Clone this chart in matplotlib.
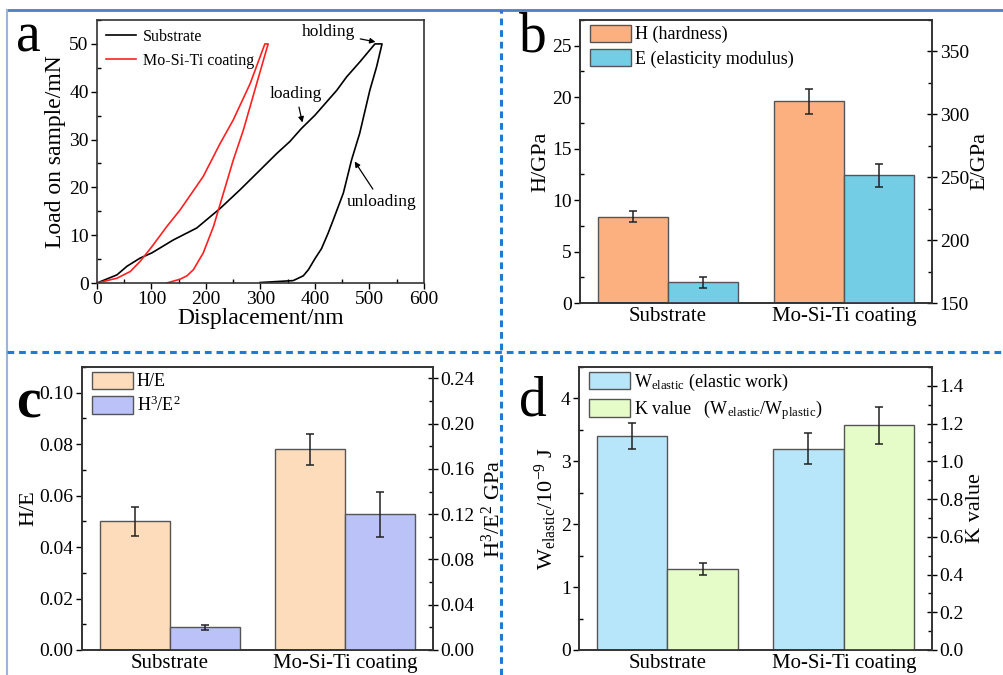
import numpy as np
import matplotlib
matplotlib.use('Agg')
import matplotlib.pyplot as plt
from matplotlib.lines import Line2D
from matplotlib.ticker import MultipleLocator

plt.rcParams['font.family'] = ['Liberation Serif', 'DejaVu Serif']
plt.rcParams['mathtext.fontset'] = 'custom'
plt.rcParams['mathtext.rm'] = 'Liberation Serif'
plt.rcParams['mathtext.it'] = 'Liberation Serif:italic'
plt.rcParams['axes.linewidth'] = 1.2
plt.rcParams['axes.edgecolor'] = '#333333'

# ---- panel a: load-displacement curves (loading, holding, unloading) ----
sub_disp = [0, 36.6, 55, 79, 100.7, 140, 183, 226, 262.5, 299, 330, 354, 375, 400, 440, 458, 482, 510,
            523, 513, 500.6, 482, 467, 452, 433.5, 424, 412, 400, 388, 378.5, 360, 299]
sub_load = [0, 1.7, 3.5, 5.2, 6.3, 9.0, 11.5, 15.6, 19.5, 23.6, 27.1, 29.6, 32.3, 35.1, 40.3, 43.1, 46.2, 50,
            50, 45.2, 40.3, 31.3, 25.7, 18.8, 13.2, 10.4, 7.2, 5.1, 2.8, 1.5, 0.5, 0.1]
coat_disp = [0, 36.6, 61, 79, 100.7, 128, 152.6, 195, 226, 250, 281, 308,
             314, 293, 268.6, 250, 232, 213.7, 195, 177, 165, 152.6, 128]
coat_load = [0, 1.0, 2.4, 4.5, 7.6, 11.8, 15.3, 22.3, 29.2, 34.1, 41.7, 50,
             50, 41.7, 32, 25.7, 18.8, 11.8, 6.3, 2.8, 1.5, 0.8, 0]

# ---- bar panels ----
samples = ['Substrate', 'Mo-Si-Ti coating']
hardness = [8.4, 19.6]
hardness_err = [0.5, 1.2]
modulus = [166.5, 251.5]
modulus_err = [4.2, 9.0]
h_over_e = [0.050, 0.078]
h_over_e_err = [0.0056, 0.006]
h3_e2 = [0.020, 0.120]
h3_e2_err = [0.0022, 0.020]
w_elastic = [3.4, 3.2]
w_elastic_err = [0.21, 0.25]
k_value = [0.43, 1.19]
k_value_err = [0.032, 0.10]

W, H = 1004, 675
fig = plt.figure(figsize=(W / 100, H / 100), dpi=100)

TICK = 14
LAB = 16


def px_axes(left, top, right, bottom):
    return fig.add_axes([left / W, 1 - bottom / H, (right - left) / W, (bottom - top) / H])


def style_left(ax):
    ax.tick_params(axis='y', which='major', direction='out', length=4, labelsize=TICK, width=1, pad=2)
    ax.tick_params(axis='y', which='minor', direction='in', length=3, width=1)
    ax.tick_params(axis='x', length=0, labelsize=15, pad=3)


def style_right(ax):
    ax.tick_params(axis='y', which='major', direction='inout', length=7, labelsize=TICK, width=1, pad=2)
    ax.tick_params(axis='y', which='minor', direction='in', length=3, width=1)


def bar_panel(ax, v1, e1, v2, e2, c1, c2):
    x = np.arange(len(samples)) + 1
    ax2 = ax.twinx()
    ekw = dict(elinewidth=1.1, capthick=1.1, ecolor='#222222')
    ax.bar(x - 0.2, v1, 0.4, yerr=e1, capsize=3, color=c1, edgecolor='#555555', lw=1, error_kw=ekw, zorder=2)
    ax2.bar(x + 0.2, v2, 0.4, yerr=e2, capsize=3, color=c2, edgecolor='#555555', lw=1, error_kw=ekw, zorder=2)
    ax.set_xlim(0.5, 2.5)
    ax.set_xticks(x)
    ax.set_xticklabels(samples)
    style_left(ax)
    style_right(ax2)
    return ax2


def box_legend(ax, colors, labels):
    handles = [plt.Rectangle((0, 0), 1, 1, fc=c, ec='#555555') for c in colors]
    ax.legend(handles=handles, labels=labels, loc='upper left', frameon=False,
              fontsize=13, handlelength=2.3, handleheight=1.1, handletextpad=0.2,
              borderaxespad=0, borderpad=0.25, bbox_to_anchor=(0.015, 1.0),
              labelspacing=0.3)


# panel a
axa = px_axes(97, 20, 424, 283)
axa.plot(sub_disp, sub_load, color='black', lw=1.2, label='Substrate')
axa.plot(coat_disp, coat_load, color='#ff2020', lw=1.2, label='Mo-Si-Ti coating')
axa.set_xlim(0, 600)
axa.set_ylim(0, 55)
axa.xaxis.set_major_locator(MultipleLocator(100))
axa.xaxis.set_minor_locator(MultipleLocator(50))
axa.yaxis.set_major_locator(MultipleLocator(10))
axa.yaxis.set_minor_locator(MultipleLocator(5))
axa.tick_params(which='major', direction='out', length=4, labelsize=TICK, width=1, pad=2)
axa.tick_params(which='minor', direction='in', length=3, width=1)
axa.set_xlabel('Displacement/nm', fontsize=LAB + 1, labelpad=0)
axa.set_ylabel('Load on sample/mN', fontsize=LAB + 1, labelpad=2)
axa.legend(loc='upper left', frameon=False, fontsize=11.5, handlelength=1.9,
           borderaxespad=0.15, labelspacing=0.5, handletextpad=0.4)
akw = dict(arrowstyle='-|>', color='black', lw=0.9, mutation_scale=8)
axa.annotate('holding', xy=(516, 50.3), xytext=(375, 52.4), fontsize=12.5, va='center',
             arrowprops=akw)
axa.annotate('loading', xy=(378, 33), xytext=(317, 39.6), fontsize=12.5, va='center',
             arrowprops=akw)
axa.annotate('unloading', xy=(470, 25.9), xytext=(458, 16.9), fontsize=12.5, va='center',
             arrowprops=akw)

# panel b
axb = px_axes(580, 20, 932, 303)
axb2 = bar_panel(axb, hardness, hardness_err, modulus, modulus_err, '#fdb07f', '#72cde5')
axb.set_ylim(0, 27.5)
axb2.set_ylim(150, 375)
axb.yaxis.set_major_locator(MultipleLocator(5))
axb.yaxis.set_minor_locator(MultipleLocator(2.5))
axb2.yaxis.set_major_locator(MultipleLocator(50))
axb2.yaxis.set_minor_locator(MultipleLocator(25))
axb.set_ylabel('H/GPa', fontsize=LAB, labelpad=1)
axb2.set_ylabel('E/GPa', fontsize=LAB, labelpad=1)
box_legend(axb, ['#fdb07f', '#72cde5'], ['H (hardness)', 'E (elasticity modulus)'])

# panel c
axc = px_axes(82, 367, 433, 650)
axc2 = bar_panel(axc, h_over_e, h_over_e_err, h3_e2, h3_e2_err, '#fddcbb', '#bac2f8')
axc.set_ylim(0, 0.11)
axc2.set_ylim(0, 0.25)
axc.yaxis.set_major_locator(MultipleLocator(0.02))
axc.yaxis.set_minor_locator(MultipleLocator(0.01))
axc2.yaxis.set_major_locator(MultipleLocator(0.04))
axc2.yaxis.set_minor_locator(MultipleLocator(0.02))
axc.yaxis.set_major_formatter(lambda v, p: f'{v:.2f}')
axc2.yaxis.set_major_formatter(lambda v, p: f'{v:.2f}')
axc.set_ylabel('H/E', fontsize=LAB, labelpad=1)
axc2.set_ylabel('H$^3$/E$^2$ GPa', fontsize=LAB, labelpad=5)
box_legend(axc, ['#fddcbb', '#bac2f8'], ['H/E', 'H$^3$/E$^2$'])

# panel d
axd = px_axes(579, 367, 932, 650)
axd2 = bar_panel(axd, w_elastic, w_elastic_err, k_value, k_value_err, '#b7e6fa', '#e6fcc8')
axd.set_ylim(0, 4.5)
axd2.set_ylim(0, 1.5)
axd.yaxis.set_major_locator(MultipleLocator(1))
axd.yaxis.set_minor_locator(MultipleLocator(0.5))
axd2.yaxis.set_major_locator(MultipleLocator(0.2))
axd2.yaxis.set_minor_locator(MultipleLocator(0.1))
axd2.yaxis.set_major_formatter(lambda v, p: f'{v:.1f}')
axd.set_ylabel('W$_{\\mathrm{elastic}}$/10$^{\\mathrm{-9}}$ J', fontsize=LAB, labelpad=1)
axd2.set_ylabel('K value', fontsize=LAB, labelpad=1)
box_legend(axd, ['#b7e6fa', '#e6fcc8'],
           ['W$_{\\mathrm{elastic}}$ (elastic work)',
            'K value   (W$_{\\mathrm{elastic}}$/W$_{\\mathrm{plastic}}$)'])

# panel letters (baseline placed)
fig.text(28 / W, 1 - 52 / H, 'a', fontsize=40, ha='center', va='baseline')
fig.text(533 / W, 1 - 52 / H, 'b', fontsize=40, ha='center', va='baseline')
fig.text(28 / W, 1 - 417 / H, 'c', fontsize=40, ha='center', va='baseline', fontweight='bold')
fig.text(533 / W, 1 - 415 / H, 'd', fontsize=40, ha='center', va='baseline')

# frame and dashed dividers
top_y = 1 - 10 / H
left_x = 7 / W
fig.add_artist(Line2D([left_x, 1], [top_y, top_y], color='#4f7fbf', lw=2, transform=fig.transFigure))
fig.add_artist(Line2D([left_x, left_x], [0, top_y], color='#9ab5d9', lw=1.5, transform=fig.transFigure))
fig.add_artist(Line2D([501 / W, 501 / W], [0, top_y], color='#1f7ad6', lw=2.2, ls=(0, (2.2, 1.6)),
                      transform=fig.transFigure))
fig.add_artist(Line2D([left_x, 1], [1 - 352 / H, 1 - 352 / H], color='#1f7ad6', lw=2.2, ls=(0, (2.2, 1.6)),
                      transform=fig.transFigure))

fig.savefig('out.png', dpi=100)
